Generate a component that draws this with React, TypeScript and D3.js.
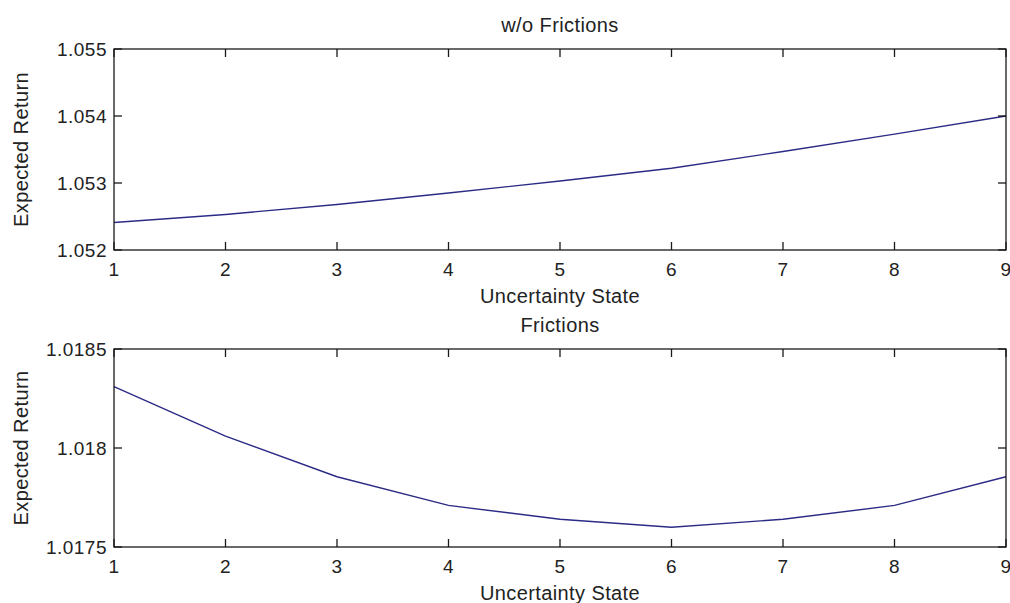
import React from "react";
import * as d3 from "d3";

const states = [1, 2, 3, 4, 5, 6, 7, 8, 9];
const noFrictionReturn = [1.05241, 1.05253, 1.05268, 1.05285, 1.05303, 1.05322, 1.05347, 1.05373, 1.054];
const frictionReturn = [1.01831, 1.01806, 1.017855, 1.01771, 1.01764, 1.0176, 1.01764, 1.01771, 1.017855];
const xTicks = [1, 2, 3, 4, 5, 6, 7, 8, 9];
const topYTicks = [1.052, 1.053, 1.054, 1.055];
const bottomYTicks = [1.0175, 1.018, 1.0185];

const W = 1010;
const H = 603;
const LEFT = 114;
const RIGHT = 1006;
const FONT = "'Liberation Sans', Arial, sans-serif";

type PanelProps = {
  top: number;
  bottom: number;
  values: number[];
  yDomain: [number, number];
  yTicks: number[];
  title: string;
  fmt: (v: number) => string;
};

function Panel({ top, bottom, values, yDomain, yTicks, title, fmt }: PanelProps) {
  const x = d3.scaleLinear().domain([1, 9]).range([LEFT, RIGHT]);
  const y = d3.scaleLinear().domain(yDomain).range([bottom, top]);
  const line = d3
    .line<number>()
    .x((_, i) => x(states[i]))
    .y((d) => y(d));
  const tl = 8;
  return (
    <g>
      <rect x={LEFT} y={top} width={RIGHT - LEFT} height={bottom - top} fill="#fff" stroke="none" />
      <path d={line(values) || ""} fill="none" stroke="#2b2b86" strokeWidth={1.4} />
      <rect x={LEFT} y={top} width={RIGHT - LEFT} height={bottom - top} fill="none" stroke="#1a1a1a" strokeWidth={1.3} />
      {xTicks.map((t) => (
        <g key={"x" + t}>
          <line x1={x(t)} x2={x(t)} y1={bottom} y2={bottom - tl} stroke="#1a1a1a" strokeWidth={1.3} />
          <line x1={x(t)} x2={x(t)} y1={top} y2={top + tl} stroke="#1a1a1a" strokeWidth={1.3} />
          <text x={x(t)} y={bottom + 25.5} textAnchor="middle" fontFamily={FONT} fontSize={19} letterSpacing={0.5} fill="#222">
            {t}
          </text>
        </g>
      ))}
      {yTicks.map((t) => (
        <g key={"y" + t}>
          <line x1={LEFT} x2={LEFT + tl} y1={y(t)} y2={y(t)} stroke="#1a1a1a" strokeWidth={1.3} />
          <line x1={RIGHT} x2={RIGHT - tl} y1={y(t)} y2={y(t)} stroke="#1a1a1a" strokeWidth={1.3} />
          <text x={LEFT - 7} y={y(t)} dy="0.36em" textAnchor="end" fontFamily={FONT} fontSize={19} letterSpacing={0.5} fill="#222">
            {fmt(t)}
          </text>
        </g>
      ))}
      <text x={(LEFT + RIGHT) / 2} y={bottom + 53} textAnchor="middle" fontFamily={FONT} fontSize={20} letterSpacing={0.4} fill="#222">
        Uncertainty State
      </text>
      <text x={(LEFT + RIGHT) / 2} y={top - 17} textAnchor="middle" fontFamily={FONT} fontSize={20} letterSpacing={0.4} fill="#222">
        {title}
      </text>
      <text
        transform={`translate(28,${(top + bottom) / 2}) rotate(-90)`}
        textAnchor="middle"
        fontFamily={FONT}
        fontSize={20}
        letterSpacing={0.4}
        fill="#222"
      >
        Expected Return
      </text>
    </g>
  );
}

export default function App() {
  const fmt = (v: number) => String(+v.toFixed(4));
  return (
    <svg width={W} height={H} style={{ position: "absolute", left: 0, top: 0, background: "#fff" }}>
      <rect x={0} y={0} width={W} height={H} fill="#fff" />
      <Panel top={49} bottom={250} values={noFrictionReturn} yDomain={[1.052, 1.055]} yTicks={topYTicks} title="w/o Frictions" fmt={fmt} />
      <Panel top={349} bottom={547} values={frictionReturn} yDomain={[1.0175, 1.0185]} yTicks={bottomYTicks} title="Frictions" fmt={fmt} />
    </svg>
  );
}
